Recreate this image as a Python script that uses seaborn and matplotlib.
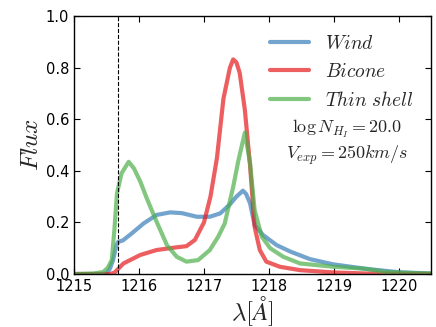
import numpy as np
import pandas as pd
import matplotlib
matplotlib.use('Agg')
import matplotlib.pyplot as plt
import seaborn as sns

# Line profiles (wavelength in Angstrom, normalised flux)
wind_wl = [1215.0, 1215.4, 1215.5, 1215.55, 1215.6, 1215.65, 1215.68, 1215.75, 1215.9,
           1216.07, 1216.27, 1216.48, 1216.66, 1216.89, 1217.09, 1217.25, 1217.4, 1217.5,
           1217.6, 1217.65, 1217.71, 1217.78, 1217.91, 1218.12, 1218.33, 1218.63, 1218.98,
           1219.5, 1220.0, 1220.5]
wind_flux = [0.0, 0.0, 0.002, 0.02, 0.054, 0.11, 0.125, 0.13, 0.16,
             0.196, 0.229, 0.239, 0.236, 0.222, 0.222, 0.235, 0.27, 0.3,
             0.323, 0.31, 0.274, 0.19, 0.151, 0.112, 0.087, 0.058, 0.038,
             0.02, 0.007, 0.002]

bicone_wl = [1215.0, 1215.55, 1215.62, 1215.66, 1215.76, 1216.02, 1216.27, 1216.53, 1216.73,
             1216.86, 1217.0, 1217.1, 1217.2, 1217.3, 1217.4, 1217.45, 1217.5, 1217.55,
             1217.63, 1217.71, 1217.78, 1217.86, 1217.96, 1218.17, 1218.48, 1219.0, 1219.5,
             1220.5]
bicone_flux = [0.0, 0.0, 0.005, 0.015, 0.041, 0.074, 0.093, 0.102, 0.108,
               0.132, 0.2, 0.3, 0.45, 0.68, 0.8, 0.832, 0.82, 0.78,
               0.636, 0.42, 0.183, 0.093, 0.048, 0.028, 0.015, 0.006, 0.002,
               0.0]

shell_wl = [1215.0, 1215.3, 1215.45, 1215.52, 1215.58, 1215.62, 1215.66, 1215.73, 1215.84,
            1215.92, 1216.02, 1216.12, 1216.27, 1216.43, 1216.58, 1216.73, 1216.91, 1217.09,
            1217.22, 1217.32, 1217.45, 1217.53, 1217.63, 1217.71, 1217.78, 1217.89, 1218.02,
            1218.22, 1218.48, 1219.0, 1219.5, 1219.8, 1220.3, 1220.5]
shell_flux = [0.0, 0.002, 0.008, 0.025, 0.054, 0.17, 0.313, 0.39, 0.435,
              0.41, 0.358, 0.293, 0.203, 0.112, 0.067, 0.048, 0.054, 0.093,
              0.145, 0.196, 0.338, 0.44, 0.548, 0.43, 0.248, 0.145, 0.1,
              0.067, 0.041, 0.028, 0.02, 0.008, 0.003, 0.002]

lya = 1215.67

sns.set_style('ticks')
plt.rcParams['mathtext.fontset'] = 'cm'
plt.rcParams['xtick.direction'] = 'in'
plt.rcParams['ytick.direction'] = 'in'
plt.rcParams['xtick.top'] = True
plt.rcParams['ytick.right'] = True

colors = sns.color_palette('Set1')
models = [
    (wind_wl, wind_flux, r'$Wind$', colors[1]),
    (bicone_wl, bicone_flux, r'$Bicone$', colors[0]),
    (shell_wl, shell_flux, r'$Thin\ shell$', colors[2]),
]

fig = plt.figure(figsize=(4.36, 3.27), dpi=100)
ax = fig.add_axes([0.170, 0.162, 0.819, 0.789])

for wl, flux, label, c in models:
    sns.lineplot(x=wl, y=flux, ax=ax, color=c, lw=3, alpha=0.7, label=label)

ax.axvline(lya, color='k', ls='--', lw=0.8)

ax.set_xlim(1215, 1220.5)
ax.set_ylim(0, 1.0)
ax.set_xticks([1215, 1216, 1217, 1218, 1219, 1220])
ax.set_yticks([0.0, 0.2, 0.4, 0.6, 0.8, 1.0])
ax.tick_params(labelsize=10.5, length=4, width=0.8, colors='k')
for s in ax.spines.values():
    s.set_color('k')
    s.set_linewidth(1)

ax.set_xlabel(r'$\lambda[\AA]$', fontsize=18, labelpad=0)
ax.set_ylabel(r'$Flux$', fontsize=18, labelpad=2)

ax.legend(loc='upper right', frameon=False, fontsize=14, handlelength=2.0)
ax.text(1219.2, 0.51, '$\\log N_{H_I} = 20.0$\n$V_{exp} = 250 km/s$',
        ha='center', va='center', fontsize=13)

fig.savefig('out.png', dpi=100)
